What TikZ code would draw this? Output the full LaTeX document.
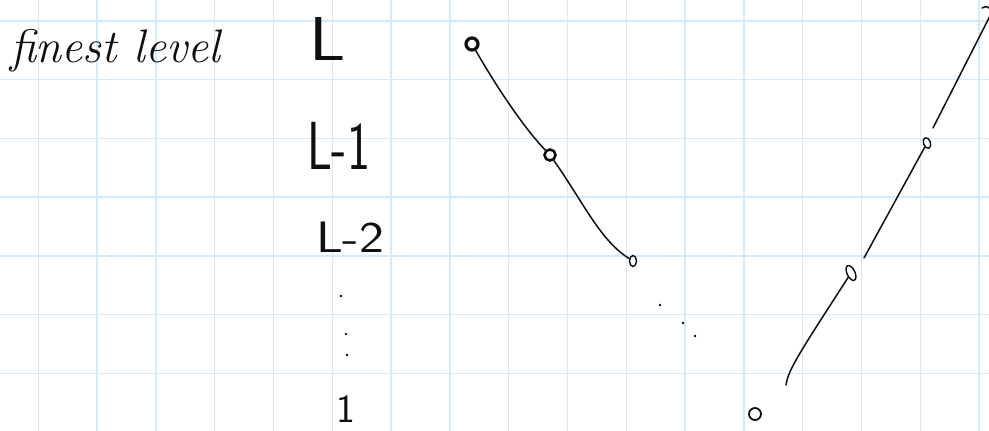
\documentclass[tikz,border=0pt]{standalone}
\usetikzlibrary{shapes.geometric}
\definecolor{gridblue}{RGB}{212,234,250}
\definecolor{ink}{RGB}{15,15,15}
\tikzset{
  gridline/.style={draw=gridblue, line width=1.4pt},
  pen/.style={draw=ink, line width=1.5pt, line cap=round, line join=round},
  lbl/.style={inner sep=0pt, outer sep=0pt, text=ink, font=\sffamily},
  pt/.style={circle, draw=ink, line width=1.4pt, inner sep=0pt},
  ov/.style={ellipse, draw=ink, line width=1.4pt, inner sep=0pt},
  dotmark/.style={circle, fill=ink, inner sep=0pt, minimum size=2.8pt}
}
\begin{document}
\begin{tikzpicture}[x=1pt, y=-1pt]
\useasboundingbox (0,0) rectangle (989,431);
\fill[white] (0,0) rectangle (989,431);
% grid
\foreach \k in {0,...,16} { \draw[gridline] ({38.3+58.8*\k},0) -- ({38.3+58.8*\k},431); }
\foreach \k in {0,...,6} { \draw[gridline] (0,{21+58.7*\k}) -- (989,{21+58.7*\k}); }

% labels
\node[lbl, anchor=base west, font=\itshape\fontsize{47}{47}\selectfont] (fin) at (10,62) {finest level};
\node[lbl, anchor=base west, font=\sffamily\fontsize{62}{62}\selectfont] (lL) at (309,60) {\scalebox{1.15}[1]{L}};
\node[lbl, anchor=base west, font=\sffamily\fontsize{68}{68}\selectfont] (lL1) at (307,169) {\scalebox{0.72}[1]{L-1}};
\node[lbl, anchor=base west, font=\sffamily\fontsize{44}{44}\selectfont] (lL2) at (316,252) {\scalebox{1.2}[1]{L-2}};
\node[lbl, anchor=base west, font=\sffamily\fontsize{40}{40}\selectfont] (l1) at (336,422) {1};
% vertical dots
\node[dotmark] (vd1) at (341,296) {};
\node[dotmark] (vd2) at (346,334) {};
\node[dotmark] (vd3) at (347,355) {};

% left chain nodes
\node[pt, minimum size=12pt, line width=3.2pt] (n1) at (472,44) {};
\node[pt, minimum size=11pt, line width=2.6pt] (n2) at (550,155) {};
\node[ov, minimum width=7pt, minimum height=11pt] (n3) at (633,261) {};
% diagonal dots
\node[dotmark] (dd1) at (660,305) {};
\node[dotmark] (dd2) at (683,323) {};
\node[dotmark] (dd3) at (695,336) {};
% right chain nodes
\node[pt, minimum size=12pt, line width=1.8pt] (n4) at (755,414) {};
\node[ov, minimum width=8pt, minimum height=16pt, rotate=25] (n5) at (851,273) {};
\node[ov, minimum width=7pt, minimum height=11pt, rotate=20] (n6) at (927,143) {};
\coordinate (n7) at (992,12);

% left chain connectors
\draw[pen] (n1) .. controls (496,86) and (524,128) .. (n2);
\draw[pen] (n2) .. controls (585,205) and (600,240) .. (n3);

% right chain connectors
\coordinate (s1) at (786,385);
\coordinate (s2) at (864,258);
\coordinate (s3) at (933,128);
\draw[pen] (s1) .. controls (788,370) and (800,352) .. (n5);
\draw[pen] (s2) -- (n6);
\draw[pen] (s3) -- (n7);
\draw[pen] (n7) .. controls (990,6) and (985,6) .. (982,8);
\end{tikzpicture}
\end{document}
